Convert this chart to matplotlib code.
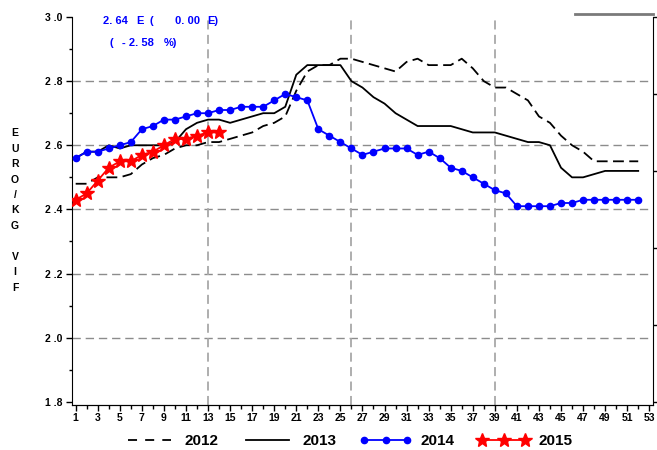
import numpy as np
import matplotlib.pyplot as plt
from matplotlib.lines import Line2D

# Semanas y precios (EURO/KG VIF)
semanas = np.arange(1, 53)
semanas_2015 = np.arange(1, 15)

precio_2012 = [2.48, 2.48, 2.50, 2.50, 2.50, 2.51, 2.54, 2.56, 2.57, 2.59,
               2.60, 2.60, 2.61, 2.61, 2.62, 2.63, 2.64, 2.66, 2.67, 2.69,
               2.77, 2.83, 2.85, 2.85, 2.87, 2.87, 2.86, 2.85, 2.84, 2.83,
               2.86, 2.87, 2.85, 2.85, 2.85, 2.87, 2.84, 2.80, 2.78, 2.78,
               2.76, 2.74, 2.69, 2.67, 2.63, 2.60, 2.58, 2.55, 2.55, 2.55,
               2.55, 2.55]
precio_2013 = [2.56, 2.58, 2.58, 2.60, 2.59, 2.60, 2.60, 2.60, 2.60, 2.61,
               2.65, 2.67, 2.68, 2.68, 2.67, 2.68, 2.69, 2.70, 2.70, 2.72,
               2.82, 2.85, 2.85, 2.85, 2.85, 2.80, 2.78, 2.75, 2.73, 2.70,
               2.68, 2.66, 2.66, 2.66, 2.66, 2.65, 2.64, 2.64, 2.64, 2.63,
               2.62, 2.61, 2.61, 2.60, 2.53, 2.50, 2.50, 2.51, 2.52, 2.52,
               2.52, 2.52]
precio_2014 = [2.56, 2.58, 2.58, 2.59, 2.60, 2.61, 2.65, 2.66, 2.68, 2.68,
               2.69, 2.70, 2.70, 2.71, 2.71, 2.72, 2.72, 2.72, 2.74, 2.76,
               2.75, 2.74, 2.65, 2.63, 2.61, 2.59, 2.57, 2.58, 2.59, 2.59,
               2.59, 2.57, 2.58, 2.56, 2.53, 2.52, 2.50, 2.48, 2.46, 2.45,
               2.41, 2.41, 2.41, 2.41, 2.42, 2.42, 2.43, 2.43, 2.43, 2.43,
               2.43, 2.43]
precio_2015 = [2.43, 2.45, 2.49, 2.53, 2.55, 2.55, 2.57, 2.58, 2.60, 2.62,
               2.62, 2.63, 2.64, 2.64]

y_ticks = [1.8, 2.0, 2.2, 2.4, 2.6, 2.8, 3.0]
x_ticks = list(range(1, 54, 2))

plt.rcParams['font.family'] = ['Liberation Sans', 'DejaVu Sans']
plt.rcParams['font.weight'] = 'bold'

fig = plt.figure(figsize=(6.57, 4.5), dpi=100)
ax = fig.add_axes([0.110, 0.10, 0.8834, 0.8622])

# Cuadricula
for y in [2.0, 2.2, 2.4, 2.6, 2.8]:
    ax.axhline(y, color='#8c8c8c', lw=1, dashes=(6, 3.5), zorder=1)
for x in [13, 26, 39]:
    ax.axvline(x, color='#a8a8a8', lw=1.3, dashes=(5, 3), zorder=1)

ax.plot(semanas, precio_2012, color='black', lw=1.3, dashes=(6, 3), zorder=3)
ax.plot(semanas, precio_2013, color='black', lw=1.3, zorder=3)
ax.plot(semanas, precio_2014, color='#0000ff', lw=1.3, marker='o', markersize=4.5, zorder=4)
ax.plot(semanas_2015, precio_2015, color='#ff0000', lw=1.3, marker='*', markersize=10, zorder=5)

ax.set_xlim(0.69, 53.31)
ax.set_ylim(1.79, 3.0)
ax.set_xticks(x_ticks)
ax.set_xticks(range(1, 54), minor=True)
ax.set_xticklabels([str(t) for t in x_ticks], fontsize=7.5, fontweight='bold')
ax.set_yticks(y_ticks)
ax.set_yticks(np.arange(1.8, 3.01, 0.1), minor=True)
ax.set_yticklabels(['1 .8', '2 .0', '2 .2', '2 .4', '2 .6', '2 .8', '3 .0'],
                   fontsize=7.5, fontweight='bold')
ax.tick_params(axis='x', which='major', length=4, width=1, pad=2)
ax.tick_params(axis='x', which='minor', length=3, width=1)
ax.tick_params(axis='y', which='major', length=4, width=1, pad=3)
ax.tick_params(axis='y', which='minor', length=2, width=1)
ax.spines['top'].set_visible(False)
ax.spines['right'].set_visible(False)

# Eje derecho sin etiquetas
ax2 = ax.twinx()
ax2.set_ylim(1.79, 3.0)
ax2.set_yticks([1.8, 2.04, 2.28, 2.52, 2.76, 3.0])
ax2.set_yticklabels([])
ax2.tick_params(axis='y', length=4, width=1)
ax2.spines['top'].set_visible(False)
ax2.spines['left'].set_visible(False)

fig.add_artist(Line2D([0.875, 0.9934], [0.969, 0.969], color='#7a7a7a', lw=2))

# Etiqueta vertical
fig.text(0.023, 0.715, 'E\nU\nR\nO\n/\nK\nG\n\nV\nI\nF', fontsize=7.5, fontweight='bold',
         ha='center', va='top', linespacing=1.68)

# Anotaciones
azul = '#0000ff'
fig.text(103 / 657, 0.953, '2. 64', color=azul, fontsize=8, fontweight='bold', va='center')
fig.text(136 / 657, 0.953, 'E', color=azul, fontsize=8, fontweight='bold', va='center')
fig.text(149 / 657, 0.953, '(', color=azul, fontsize=8, fontweight='bold', va='center')
fig.text(175 / 657, 0.953, '0. 00', color=azul, fontsize=8, fontweight='bold', va='center')
fig.text(207 / 657, 0.953, 'E)', color=azul, fontsize=8, fontweight='bold', va='center')
fig.text(110 / 657, 0.905, '(', color=azul, fontsize=8, fontweight='bold', va='center')
fig.text(122 / 657, 0.905, '- 2. 58', color=azul, fontsize=8, fontweight='bold', va='center')
fig.text(164 / 657, 0.905, '%)', color=azul, fontsize=8, fontweight='bold', va='center')

# Leyenda
handles = [Line2D([], [], color='black', lw=1.3, dashes=(5, 4.5)),
           Line2D([], [], color='black', lw=1.3),
           Line2D([], [], color='#0000ff', lw=1.3, marker='o', markersize=4.5),
           Line2D([], [], color='#ff0000', lw=1.3, marker='*', markersize=10)]
fig.legend(handles, ['2012', '2013', '2014', '2015'], loc='center',
           bbox_to_anchor=(0.53, 0.02), ncol=4, frameon=False,
           handlelength=3.4, handletextpad=0.6, columnspacing=1.5,
           numpoints=3, prop={'weight': 'bold', 'size': 11})

fig.savefig('out.png', dpi=100)
